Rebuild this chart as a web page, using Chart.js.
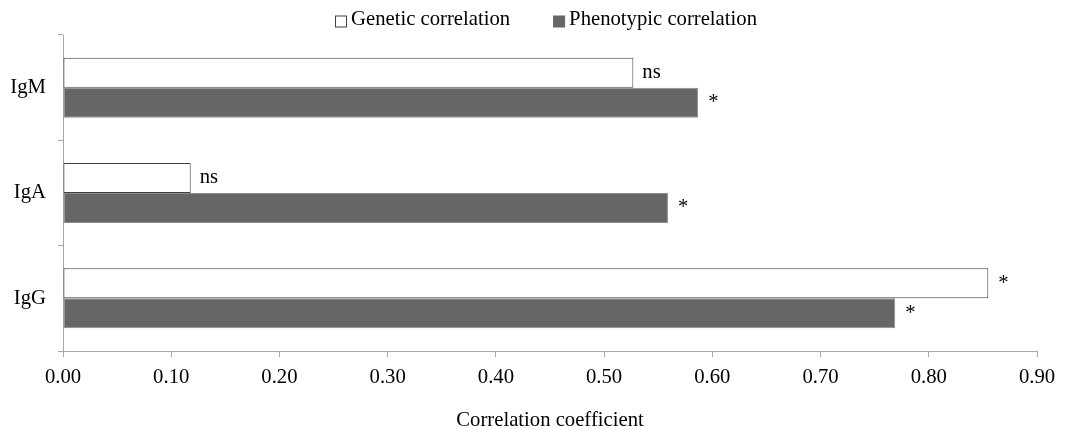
<!DOCTYPE html>
<html>
<head>
<meta charset="utf-8">
<script src="https://cdn.jsdelivr.net/npm/chart.js@4"></script>
<style>
  html, body { margin: 0; padding: 0; background: #fff; }
  #wrap { width: 1068px; height: 429px; }
</style>
</head>
<body>
<div id="wrap"><canvas id="chart" width="1068" height="429"></canvas></div>
<script>
const CATEGORIES = ['IgM', 'IgA', 'IgG'];
const GENETIC = [0.527, 0.118, 0.855];
const PHENOTYPIC = [0.587, 0.559, 0.769];
const GENETIC_SIG = ['ns', 'ns', '*'];
const PHENOTYPIC_SIG = ['*', '*', '*'];
const X_TICKS = [0, 0.1, 0.2, 0.3, 0.4, 0.5, 0.6, 0.7, 0.8, 0.9];

const FONT = 'Liberation Serif';
const FONT_SIZE = 20.7;
const AXIS_COLOR = '#a6a6a6';

// draws "ns" / "*" just after the end of each bar
const sigLabels = {
  id: 'sigLabels',
  afterDatasetsDraw(chart) {
    const ctx = chart.ctx;
    const sets = [GENETIC_SIG, PHENOTYPIC_SIG];
    ctx.save();
    ctx.fillStyle = '#000';
    ctx.textBaseline = 'middle';
    ctx.textAlign = 'left';
    ctx.font = FONT_SIZE + 'px "' + FONT + '"';
    sets.forEach((labels, di) => {
      chart.getDatasetMeta(di).data.forEach((bar, i) => {
        const txt = labels[i];
        const dx = txt === '*' ? 10 : 9;
        ctx.fillText(txt, bar.x + dx, bar.y);
      });
    });
    ctx.restore();
  }
};

// legend at the top: small square, short gap, text
const topLegend = {
  id: 'topLegend',
  afterDraw(chart) {
    const ctx = chart.ctx;
    const box = 11, gap = 5, itemGap = 43, y = 21;
    const sets = chart.data.datasets;
    ctx.save();
    ctx.font = FONT_SIZE + 'px "' + FONT + '"';
    const widths = sets.map(ds => ctx.measureText(ds.label).width);
    let total = 0;
    widths.forEach((w, i) => { total += box + gap + w + (i ? itemGap : 0); });
    const area = chart.chartArea;
    let x = (area.left + area.right) / 2 - 4 - total / 2;
    ctx.textBaseline = 'middle';
    ctx.textAlign = 'left';
    sets.forEach((ds, i) => {
      ctx.fillStyle = ds.backgroundColor;
      ctx.fillRect(x + 0.5, y - box / 2 + 0.5, box, box);
      ctx.strokeStyle = i === 0 ? '#404040' : '#666666';
      ctx.lineWidth = 1;
      ctx.strokeRect(x + 0.5, y - box / 2 + 0.5, box, box);
      x += box + gap;
      ctx.fillStyle = '#000';
      ctx.fillText(ds.label, x, y - 1);
      x += widths[i] + itemGap;
    });
    ctx.restore();
  }
};

new Chart(document.getElementById('chart'), {
  type: 'bar',
  data: {
    labels: CATEGORIES,
    datasets: [
      {
        label: 'Genetic correlation',
        data: GENETIC,
        backgroundColor: '#ffffff',
        borderColor: '#404040',
        borderWidth: 1,
        borderSkipped: false,
        barPercentage: 1.0,
        categoryPercentage: 0.57,
      },
      {
        label: 'Phenotypic correlation',
        data: PHENOTYPIC,
        backgroundColor: '#666666',
        borderColor: '#8c8c8c',
        borderWidth: 1,
        borderSkipped: false,
        barPercentage: 1.0,
        categoryPercentage: 0.57,
      },
    ],
  },
  options: {
    indexAxis: 'y',
    responsive: false,
    animation: false,
    devicePixelRatio: 1,
    layout: { padding: { left: 0, right: 31, top: 35, bottom: 0 } },
    scales: {
      x: {
        min: 0,
        max: 0.9,
        afterBuildTicks(scale) {
          scale.ticks = X_TICKS.map(v => ({ value: v }));
        },
        afterFit(scale) { scale.height = 78; },
        grid: {
          drawOnChartArea: false,
          drawTicks: true,
          tickLength: 6,
          color: AXIS_COLOR,
        },
        border: { color: AXIS_COLOR, width: 1 },
        ticks: {
          color: '#000',
          padding: 8,
          maxRotation: 0,
          font: { family: FONT, size: FONT_SIZE },
          callback: v => Number(v).toFixed(2),
        },
        title: {
          display: true,
          text: 'Correlation coefficient',
          color: '#000',
          padding: { top: 0, bottom: -4 },
          font: { family: FONT, size: FONT_SIZE },
        },
      },
      y: {
        afterFit(scale) { scale.width = 63; },
        grid: {
          offset: true,
          drawOnChartArea: false,
          drawTicks: true,
          tickLength: 5,
          color: AXIS_COLOR,
        },
        border: { color: AXIS_COLOR, width: 1 },
        ticks: {
          color: '#000',
          padding: 12,
          font: { family: FONT, size: FONT_SIZE },
        },
      },
    },
    plugins: {
      tooltip: { enabled: false },
      legend: { display: false },
    },
  },
  plugins: [sigLabels, topLegend],
});
</script>
</body>
</html>
